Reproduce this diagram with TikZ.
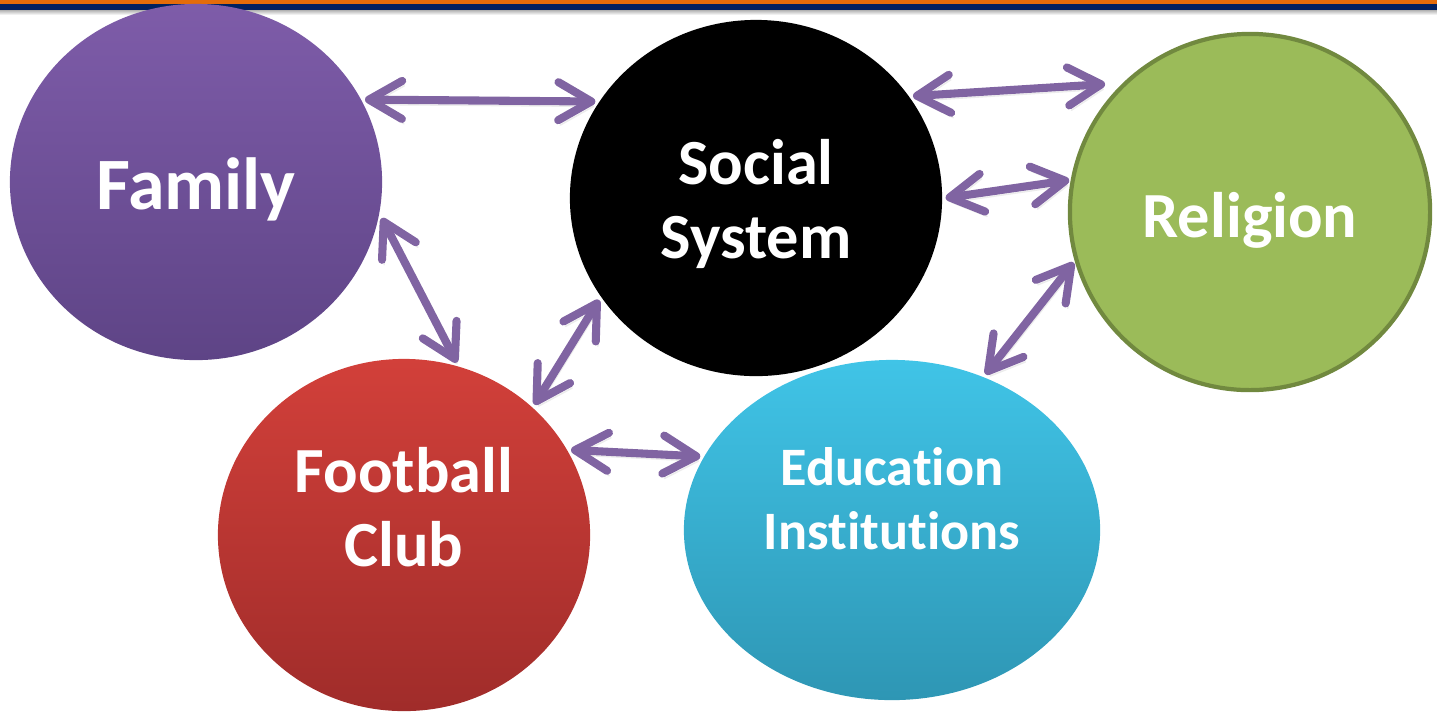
\documentclass[tikz,border=0pt]{standalone}
\usepackage{fontspec}
\setsansfont{Carlito}[Ligatures=NoCommon]
\usepackage{tikz}
\usetikzlibrary{shapes.geometric, arrows.meta}

\definecolor{linkpurple}{HTML}{8064A2}
\definecolor{famtop}{HTML}{7E5CA9}
\definecolor{fambot}{HTML}{5E4486}
\definecolor{clubtop}{HTML}{D2403A}
\definecolor{clubbot}{HTML}{A02C2A}
\definecolor{edutop}{HTML}{40C4E7}
\definecolor{edubot}{HTML}{2E96B4}
\definecolor{barorange}{HTML}{E46C0A}
\definecolor{barnavy}{HTML}{002060}
\definecolor{relgreen}{HTML}{9BBB59}
\definecolor{relborder}{HTML}{71893F}

\begin{document}
\begin{tikzpicture}[x=0.01cm, y=-0.01cm,
    bubble/.style={ellipse, inner sep=0pt, outer sep=1pt},
    txt/.style={text=white, align=center, font=\sffamily\bfseries\fontsize{18.3}{21}\selectfont},
    link/.style={linkpurple, line width=2.3pt, line cap=round,
        {Straight Barb[round, length=3.3mm, width=3.8mm]}-{Straight Barb[round, length=3.3mm, width=3.8mm]},
        preaction={draw=black!25, opacity=0.3, transform canvas={shift={(0.6pt,-1.4pt)}}}}]
    \useasboundingbox (0,0) rectangle (1437,711);

    % top bar
    \fill[barorange] (0,0) rectangle (1437,4);
    \fill[barnavy] (0,4) rectangle (1437,10);
    \shade[top color=black!30, bottom color=white] (0,10) rectangle (1437,15);

    \node[bubble, minimum width=3.72cm, minimum height=3.56cm, top color=famtop, bottom color=fambot,
        label={[txt, yshift=-0.7mm, font=\sffamily\bfseries\fontsize{21}{22}\selectfont]center:Family}] (fam) at (196,182) {};
    \node[bubble, minimum width=3.72cm, minimum height=3.56cm, fill=black,
        label={[txt, yshift=-0.6mm]center:{Social\\System}}] (soc) at (756,198) {};
    \node[bubble, minimum width=3.6cm, minimum height=3.56cm, fill=relgreen, draw=relborder, line width=1.2pt,
        label={[txt, yshift=-0.8mm]center:Religion}] (rel) at (1250,212) {};
    \node[bubble, minimum width=3.72cm, minimum height=3.52cm, top color=clubtop, bottom color=clubbot,
        label={[txt, yshift=2.8mm]center:{Football\\Club}}] (club) at (404,535) {};
    \node[bubble, minimum width=4.16cm, minimum height=3.4cm, top color=edutop, bottom color=edubot,
        label={[txt, yshift=3.1mm, font=\sffamily\bfseries\fontsize{15.4}{18.3}\selectfont]center:{Education\\Institutions}}] (edu) at (892,530) {};

    \draw[link] (fam.26) -- (soc.149);
    \draw[link] (soc.33) -- ([xshift=-0.07cm, yshift=0.08cm]rel.139);
    \draw[link] (soc.0) -- (rel.170);
    \draw[link] (fam.-11) -- (club.73);
    \draw[link] (club.45) -- (soc.213);
    \draw[link] (club.27) -- (edu.159);
    \draw[link] (edu.59) -- (rel.196);
\end{tikzpicture}
\end{document}
